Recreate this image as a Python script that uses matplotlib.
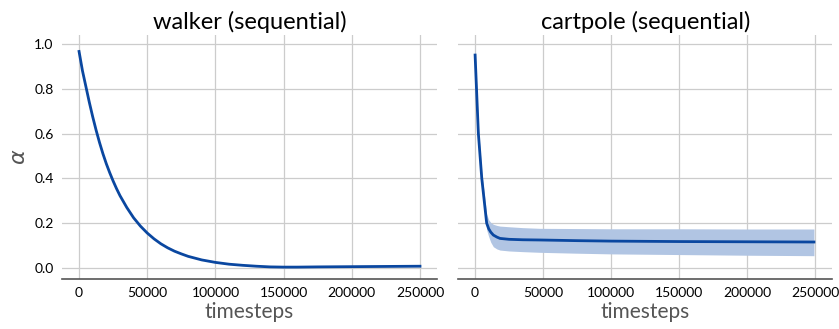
import matplotlib
matplotlib.use("Agg")
import matplotlib.pyplot as plt

plt.rcParams['font.family'] = ['Lato', 'DejaVu Sans']

# walker (sequential)
walker_t = [0, 2500, 5000, 7500, 10000, 12500, 15000, 17500, 20000, 22500, 25000,
            27500, 30000, 35000, 40000, 45000, 50000, 55000, 60000, 65000, 70000,
            75000, 80000, 90000, 100000, 110000, 120000, 130000, 140000, 150000,
            160000, 175000, 200000, 225000, 250000]
walker_alpha = [0.966, 0.88, 0.81, 0.74, 0.675, 0.615, 0.56, 0.51, 0.465, 0.425, 0.388,
                0.354, 0.323, 0.27, 0.224, 0.187, 0.156, 0.130, 0.108, 0.090, 0.075,
                0.063, 0.052, 0.036, 0.025, 0.017, 0.012, 0.008, 0.005, 0.004,
                0.004, 0.005, 0.006, 0.007, 0.008]

# cartpole (sequential)
cart_t = [0, 2400, 4900, 8500, 10000, 11500, 13400, 16000, 18300, 25000, 35000,
          47600, 75000, 100000, 150000, 200000, 249000]
cart_alpha = [0.95, 0.60, 0.40, 0.20, 0.175, 0.16, 0.147, 0.138, 0.132, 0.128, 0.126,
              0.125, 0.122, 0.120, 0.118, 0.117, 0.116]
cart_upper = [0.99, 0.63, 0.43, 0.24, 0.215, 0.203, 0.195, 0.19, 0.187, 0.184, 0.180,
              0.177, 0.176, 0.175, 0.175, 0.174, 0.174]
cart_lower = [0.93, 0.57, 0.37, 0.17, 0.14, 0.115, 0.095, 0.085, 0.080, 0.076, 0.073,
              0.070, 0.066, 0.063, 0.060, 0.057, 0.055]

line_color = "#0a47a0"
fill_color = "#b1c5e3"

fig = plt.figure(figsize=(8.39, 3.29), dpi=100)
ax1 = fig.add_axes([0.0739, 0.152, 0.447, 0.742])
ax2 = fig.add_axes([0.546, 0.152, 0.446, 0.742], sharey=ax1)

ax1.plot(walker_t, walker_alpha, color=line_color, lw=2)
ax2.fill_between(cart_t, cart_lower, cart_upper, color=fill_color, lw=0)
ax2.plot(cart_t, cart_alpha, color=line_color, lw=2)

for ax, title in [(ax1, "walker (sequential)"), (ax2, "cartpole (sequential)")]:
    ax.set_title(title, fontsize=17, pad=4)
    ax.set_xlabel("timesteps", fontsize=15, color="#555555", labelpad=2)
    ax.set_xticks([0, 50000, 100000, 150000, 200000, 250000])
    ax.set_yticks([0.0, 0.2, 0.4, 0.6, 0.8, 1.0])
    ax.set_xlim(-12500, 262500)
    ax.set_ylim(-0.049, 1.04)
    ax.grid(True, color="#cccccc", lw=0.9)
    ax.set_axisbelow(True)
    for s in ["top", "right", "left"]:
        ax.spines[s].set_visible(False)
    ax.spines["bottom"].set_color("#555555")
    ax.spines["bottom"].set_linewidth(1.2)
    ax.tick_params(length=0, labelsize=10, pad=6)

ax1.set_ylabel(r"$\alpha$", fontsize=16, color="#555555")
ax2.tick_params(labelleft=False)

fig.savefig("out.png", dpi=100)
